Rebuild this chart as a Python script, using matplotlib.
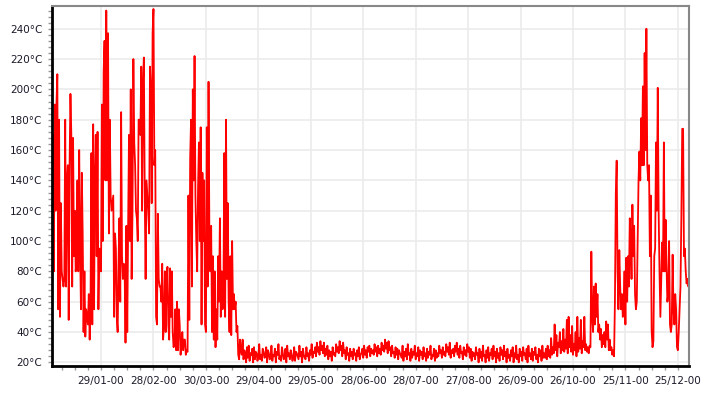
import numpy as np
import pandas as pd
import matplotlib
matplotlib.use("Agg")
import matplotlib.pyplot as plt
import matplotlib.dates as mdates
from matplotlib.ticker import MultipleLocator, FixedLocator, FuncFormatter

# temperature readings every 12 hours, starting 01/01/2000
temps = [
    # jan - apr (heating season)
    60,170, 80,190, 120,190, 210,55, 180,50, 125,80, 75,70, 75,180, 70,140, 150,48,
    150,197, 170,70, 168,90, 120,80, 90,140, 80,160, 100,55, 145,105, 40,80, 37,55,
    50,45, 65,35, 60,158, 45,177, 55,140, 170,90, 172,55, 95,85, 80,190, 100,212,
    232,140, 252,140, 237,105, 180,130, 120,125, 130,50, 105,95, 50,40, 85,115, 60,185,
    90,75, 85,80, 33,110, 40,110, 170,100, 200,75, 120,220, 165,150, 120,115, 100,180,
    180,170, 215,120, 205,221, 130,75, 140,130, 120,105, 215,200, 125,237, 253,150, 160,50,
    45,118, 75,70, 70,60, 85,35, 45,80, 40,75, 83,45, 35,82, 50,80, 40,30,
    32,55, 28,60, 28,55, 45,25, 30,40, 28,35, 35,25, 28,27, 130,48, 155,180,
    70,200, 140,222, 130,100, 80,135, 165,100, 175,45, 145,100, 140,45, 40,175, 70,205,
    100,80, 110,40, 90,35, 80,30, 55,35, 90,60, 115,50, 80,55, 60,158, 50,180,
    75,125, 60,40, 90,38, 100,55, 65,55, 60,40, 44,25, 22,35, 28,25, 35,22,
    28,25, 20,30,
    # summer
    23,31, 21,26, 25,29, 20,30, 22,27, 26,21, 24,32, 22,25, 21,29, 27,23,
    24,30, 20,28, 26,22, 23,31, 21,25, 24,29, 20,27, 25,32, 22,24, 21,30,
    26,22, 23,29, 20,31, 24,26, 22,28, 25,21, 23,30, 21,27, 26,24, 22,31,
    24,27, 20,29, 25,23, 22,30, 24,26, 21,28, 25,32, 23,27, 26,30, 24,33,
    27,30, 25,34, 28,31, 26,33, 24,29, 25,31, 22,28, 24,27, 21,30, 25,26,
    24,32, 27,30, 26,34, 28,31, 24,33, 26,28, 22,30, 25,26, 21,29, 24,27,
    22,29, 25,26, 21,28, 24,30, 22,25, 26,29, 23,31, 25,28, 23,30, 27,31,
    24,29, 26,28, 25,32, 27,30, 24,31, 26,29, 25,33, 28,31, 27,35, 29,33,
    26,34, 28,30, 24,31, 26,27, 23,30, 25,29, 22,28, 26,25, 23,31, 21,27,
    24,29, 22,32, 25,26, 21,29, 23,27, 25,31, 22,26, 24,30, 21,28, 25,27,
    22,30, 24,26, 21,29, 23,27, 25,31, 22,25, 24,29, 21,28, 23,26, 24,31,
    26,28, 23,30, 25,27, 24,32, 27,30, 25,33, 23,28, 26,29, 24,31, 27,33,
    25,29, 23,31, 26,27, 22,30, 25,28, 24,32, 27,30, 23,29, 21,27, 24,26,
    22,30, 25,26, 20,29, 23,27, 21,31, 24,25, 20,28, 23,30, 21,26, 25,29,
    22,31, 24,27, 20,29, 23,26, 21,30, 25,28, 22,31, 24,27, 20,29, 23,25,
    21,28, 24,30, 20,26, 23,31, 22,25, 20,29, 24,27, 21,30, 25,26, 22,29,
    20,31, 24,26, 22,29, 21,27, 25,30, 22,25, 20,29, 24,28, 21,31, 23,26,
    # oct - dec
    23,29, 22,31, 24,28, 23,36, 25,30, 26,45, 28,38, 24,33, 30,40, 26,34,
    28,42, 27,35, 29,48, 26,50, 30,38, 27,44, 25,32, 28,40, 24,50, 27,36,
    29,48, 26,34, 30,50, 28,32, 27,30, 26,31, 30,93, 50,40, 70,45, 72,50,
    65,40, 45,35, 42,30, 38,32, 40,30, 47,35, 45,28, 35,28, 30,25, 28,24,
    60,131, 153,80, 55,94, 70,55, 65,50, 60,80, 45,89, 60,90, 70,115, 100,75,
    124,90, 110,65, 55,60, 100,140, 159,140, 181,150, 202,150, 224,160, 240,150, 140,150,
    90,130, 41,30, 34,90, 95,165, 120,201, 120,80, 50,75, 99,80, 165,80, 114,85,
    60,65, 100,45, 40,45, 91,55, 45,65, 55,30, 28,40, 55,70, 116,174, 174,90,
    95,80, 72,75, 70,72,
]

tick_labels = ["29/01-00", "28/02-00", "30/03-00", "29/04-00", "29/05-00", "28/06-00",
               "28/07-00", "27/08-00", "26/09-00", "26/10-00", "25/11-00", "25/12-00"]

times = pd.date_range("2000-01-01", periods=len(temps), freq="12h")
tick_pos = mdates.date2num(pd.date_range("2000-01-29", periods=len(tick_labels), freq="30D"))

fig = plt.figure(figsize=(7.04, 3.98), dpi=100)
ax = fig.add_axes([0.074, 0.080, 0.905, 0.905])

ax.plot(times, temps, color="#ff0000", lw=1.3)

x0, x1 = mdates.date2num(times[0]), mdates.date2num(times[-1])
ax.set_xlim(x0, x1)
ax.set_ylim(17.5, 255)

ax.xaxis.set_major_locator(FixedLocator(tick_pos))
ax.set_xticklabels(tick_labels)
minor = np.arange(tick_pos[0] - 7.5 * 4, x1, 7.5)
ax.xaxis.set_minor_locator(FixedLocator(minor[(minor > x0) & (minor < x1)]))

ax.yaxis.set_major_locator(MultipleLocator(20))
ax.yaxis.set_minor_locator(MultipleLocator(4))
ax.yaxis.set_major_formatter(FuncFormatter(lambda v, p: "%d°C" % v))

ax.grid(True, which="major", color="#ebebeb", lw=1.2)
ax.set_axisbelow(True)

for s in ["left", "bottom"]:
    ax.spines[s].set_color("black")
    ax.spines[s].set_linewidth(2)
for s in ["top", "right"]:
    ax.spines[s].set_color("#888888")
    ax.spines[s].set_linewidth(1.5)

ax.tick_params(which="both", length=3, width=1, color="#999999", labelsize=7.5,
               labelcolor="#1a1a2a", pad=4)

fig.savefig("out.png", dpi=100)
